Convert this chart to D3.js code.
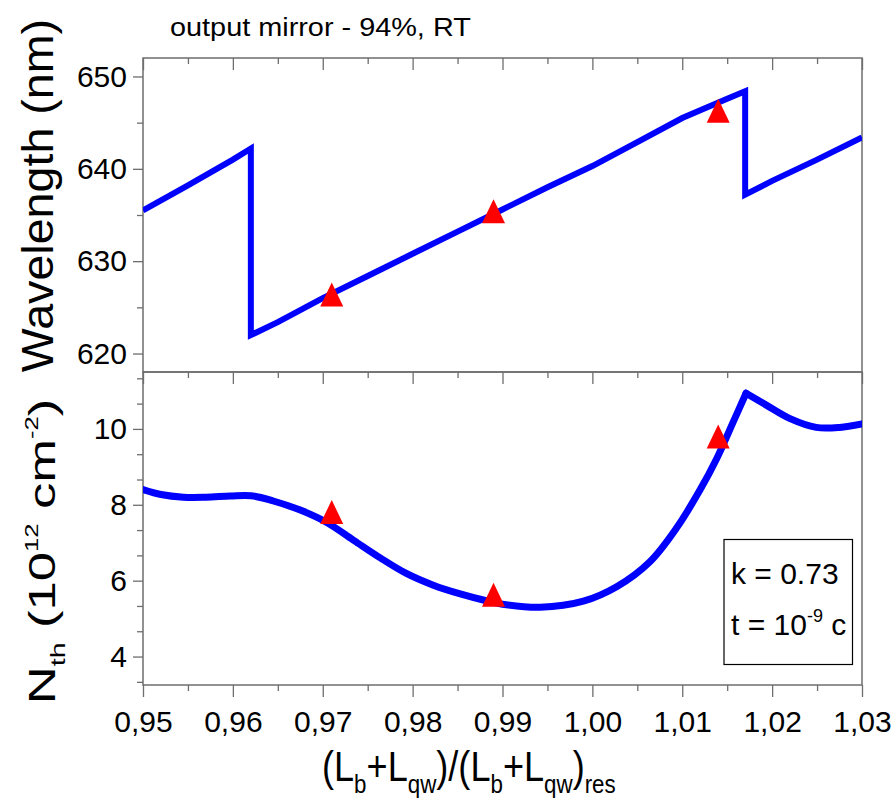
<!DOCTYPE html>
<html>
<head>
<meta charset="utf-8">
<script src="https://cdn.jsdelivr.net/npm/d3@7"></script>
<style>
  html, body { margin: 0; padding: 0; background: #fff; }
  svg { display: block; font-family: "Liberation Sans", Arial, sans-serif; }
</style>
</head>
<body>
<svg id="chart" width="895" height="801"></svg>
<script>
// Lasing wavelength vs normalised cavity length (upper panel)
const wlX = [0.950, 0.955, 0.960, 0.962, 0.962, 0.965, 0.970, 0.975, 0.980, 0.985, 0.990,
             0.995, 1.000, 1.005, 1.010, 1.015, 1.017, 1.017, 1.020, 1.025, 1.030];
const wlY = [635.5, 638.2, 641.0, 642.2, 622.0, 623.4, 626.0, 628.4, 630.8, 633.2, 635.6,
             638.0, 640.3, 642.9, 645.5, 647.6, 648.4, 637.2, 638.7, 641.0, 643.4];

// Threshold carrier density (lower panel), 10^12 cm^-2
const nthX = [0.950, 0.952, 0.9545, 0.957, 0.9597, 0.962, 0.9645, 0.9675, 0.9704, 0.9734,
              0.9764, 0.9793, 0.9823, 0.9853, 0.9882, 0.990, 0.9942, 0.999, 1.0027, 1.0064,
              1.0094, 1.0120, 1.0138, 1.0157, 1.0171, 1.0194, 1.0220, 1.0249, 1.0275, 1.030];
const nthY = [8.40, 8.27, 8.20, 8.20, 8.23, 8.24, 8.10, 7.86, 7.54, 7.07,
              6.60, 6.19, 5.88, 5.65, 5.47, 5.38, 5.30, 5.46, 5.84, 6.50,
              7.40, 8.40, 9.20, 10.20, 10.94, 10.62, 10.27, 10.04, 10.04, 10.13];

// Measured points (red triangles)
const markX = [0.971, 0.989, 1.014];
const markWl = [626.4, 635.4, 646.3];
const markNth = [7.81, 5.63, 9.80];

// Axis ticks
const xTicks = [0.95, 0.96, 0.97, 0.98, 0.99, 1.00, 1.01, 1.02, 1.03];
const xMinor = [0.955, 0.965, 0.975, 0.985, 0.995, 1.005, 1.015, 1.025];
const wlTicks = [620, 630, 640, 650];
const wlMinor = [625, 635, 645];
const nthTicks = [4, 6, 8, 10];
const nthMinor = [10 / 3, 14 / 3, 16 / 3, 20 / 3, 22 / 3, 26 / 3, 28 / 3, 32 / 3, 34 / 3];

const L = 143, R = 862, T1 = 58, B1 = 372, T2 = 372, B2 = 685;
const axisColor = "#6e6e6e";
const blue = "#0000ff", red = "#ff0000";

const svg = d3.select("#chart");

const x = d3.scaleLinear().domain([0.95, 1.03]).range([L, R]);
const yWl = d3.scaleLinear().domain([618, 652]).range([B1, T1]);
const yN = d3.scaleLinear().domain([3.25, 11.5]).range([B2, T2]);

const defs = svg.append("defs");
defs.append("clipPath").attr("id", "clipTop")
  .append("rect").attr("x", L).attr("y", T1).attr("width", R - L).attr("height", B1 - T1);
defs.append("clipPath").attr("id", "clipBot")
  .append("rect").attr("x", L).attr("y", T2).attr("width", R - L).attr("height", B2 - T2);

function styleAxis(g) {
  g.select(".domain").remove();
  g.selectAll(".tick line").attr("stroke", axisColor).attr("stroke-width", 1.3);
  g.selectAll(".tick text").attr("fill", "#000")
    .style("font-family", '"Liberation Sans", Arial, sans-serif')
    .style("font-size", "30px");
}

// Top edges of both panels: inward ticks, no labels
[T1, T2].forEach(yPos => {
  svg.append("g").attr("transform", `translate(0,${yPos})`)
    .call(d3.axisBottom(x).tickValues(xTicks).tickSize(12).tickFormat(""))
    .call(styleAxis);
  svg.append("g").attr("transform", `translate(0,${yPos})`)
    .call(d3.axisBottom(x).tickValues(xMinor).tickSize(6).tickFormat(""))
    .call(styleAxis);
});

// Bottom x axis with labels
const commaFmt = d => d3.format(".2f")(d).replace(".", ",");
svg.append("g").attr("transform", `translate(0,${B2})`)
  .call(d3.axisBottom(x).tickValues(xTicks).tickSize(12).tickPadding(14).tickFormat(commaFmt))
  .call(styleAxis);
svg.append("g").attr("transform", `translate(0,${B2})`)
  .call(d3.axisBottom(x).tickValues(xMinor).tickSize(6).tickFormat(""))
  .call(styleAxis);

// Left axes
svg.append("g").attr("transform", `translate(${L},0)`)
  .call(d3.axisLeft(yWl).tickValues(wlTicks).tickSize(10).tickPadding(6).tickFormat(d3.format("d")))
  .call(styleAxis);
svg.append("g").attr("transform", `translate(${L},0)`)
  .call(d3.axisLeft(yWl).tickValues(wlMinor).tickSize(6).tickFormat(""))
  .call(styleAxis);
svg.append("g").attr("transform", `translate(${L},0)`)
  .call(d3.axisLeft(yN).tickValues(nthTicks).tickSize(10).tickPadding(6).tickFormat(d3.format("d")))
  .call(styleAxis);
svg.append("g").attr("transform", `translate(${L},0)`)
  .call(d3.axisLeft(yN).tickValues(nthMinor).tickSize(6).tickFormat(""))
  .call(styleAxis);

// Panel frames
[[T1, B1], [T2, B2]].forEach(([t, b]) => {
  svg.append("rect").attr("x", L).attr("y", t).attr("width", R - L).attr("height", b - t)
    .attr("fill", "none").attr("stroke", axisColor).attr("stroke-width", 1.5);
});

// Curves
const wlData = wlX.map((v, i) => [v, wlY[i]]);
const nthData = nthX.map((v, i) => [v, nthY[i]]);

svg.append("path").datum(wlData)
  .attr("clip-path", "url(#clipTop)")
  .attr("fill", "none").attr("stroke", blue).attr("stroke-width", 6)
  .attr("stroke-linejoin", "miter")
  .attr("d", d3.line().x(d => x(d[0])).y(d => yWl(d[1])));

// The density curve has a cusp at its maximum: smooth each side separately
const peak = d3.maxIndex(nthY);
const smoothLine = d3.line().x(d => x(d[0])).y(d => yN(d[1])).curve(d3.curveCatmullRom.alpha(0.5));
[nthData.slice(0, peak + 1), nthData.slice(peak)].forEach(seg => {
  svg.append("path").datum(seg)
    .attr("clip-path", "url(#clipBot)")
    .attr("fill", "none").attr("stroke", blue).attr("stroke-width", 7)
    .attr("stroke-linecap", "round")
    .attr("d", smoothLine);
});

// Isosceles triangle marker centred on its bounding box
const triType = {
  draw(ctx, size) {
    const w = 23, h = 24;
    ctx.moveTo(0, -h / 2);
    ctx.lineTo(w / 2, h / 2);
    ctx.lineTo(-w / 2, h / 2);
    ctx.closePath();
  }
};
const tri = d3.symbol().type(triType).size(1);

svg.append("g").selectAll("path").data(markX.map((v, i) => [v, markWl[i]])).join("path")
  .attr("transform", d => `translate(${x(d[0])},${yWl(d[1])})`)
  .attr("d", tri).attr("fill", red);
svg.append("g").selectAll("path").data(markX.map((v, i) => [v, markNth[i]])).join("path")
  .attr("transform", d => `translate(${x(d[0])},${yN(d[1])})`)
  .attr("d", tri).attr("fill", red);

// Title
svg.append("g").attr("transform", "translate(170,36) scale(1.11,1)")
  .append("text").attr("font-size", 26).attr("fill", "#000")
  .text("output mirror - 94%, RT");

// Upper y-axis title
svg.append("g").attr("transform", "translate(53,195.5) rotate(-90) scale(1.06,1)")
  .append("text").attr("text-anchor", "middle").attr("font-size", 44).attr("fill", "#000")
  .text("Wavelength (nm)");

// Lower y-axis title
const yt2 = svg.append("g").attr("transform", "translate(55,551.5) rotate(-90) scale(1.42,1)")
  .append("text").attr("text-anchor", "middle").attr("font-size", 37).attr("fill", "#000");
yt2.append("tspan").text("N");
yt2.append("tspan").attr("font-size", 20).attr("dy", 10).text("th");
yt2.append("tspan").attr("dy", -10).text(" (10");
yt2.append("tspan").attr("font-size", 18).attr("dy", -17).text("12");
yt2.append("tspan").attr("dy", 17).text(" cm");
yt2.append("tspan").attr("font-size", 18).attr("dy", -17).text("-2");
yt2.append("tspan").attr("dy", 17).text(")");

// x-axis title
const xt = svg.append("g").attr("transform", "translate(322,781) scale(0.86,1)")
  .append("text").attr("font-size", 42).attr("fill", "#000");
const subParts = [["(L", false], ["b", true], ["+L", false], ["qw", true], [")/(L", false],
                  ["b", true], ["+L", false], ["qw", true], [")", false], ["res", true]];
let shifted = false;
subParts.forEach(([s, sub]) => {
  const t = xt.append("tspan").text(s);
  if (sub) { t.attr("font-size", 26); if (!shifted) { t.attr("dy", 12); shifted = true; } }
  else if (shifted) { t.attr("dy", -12); shifted = false; }
});

// Parameter box
svg.append("rect").attr("x", 724).attr("y", 539.5).attr("width", 128.5).attr("height", 125)
  .attr("fill", "#fff").attr("stroke", "#000").attr("stroke-width", 1.2);
svg.append("text").attr("x", 731).attr("y", 584).attr("font-size", 30).attr("fill", "#000")
  .text("k = 0.73");
const tt = svg.append("text").attr("x", 731).attr("y", 635).attr("font-size", 30).attr("fill", "#000");
tt.append("tspan").text("t = 10");
tt.append("tspan").attr("font-size", 18).attr("dy", -13).text("-9");
tt.append("tspan").attr("dy", 13).text(" c");
</script>
</body>
</html>
